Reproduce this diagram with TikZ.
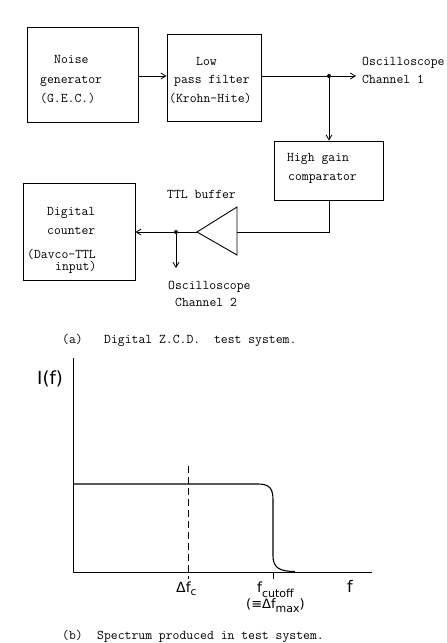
\documentclass[tikz,border=0pt]{standalone}
\usepackage{fontspec}
\newfontfamily\gsans{DejaVu Sans}
\usetikzlibrary{arrows.meta,shadows}
\begin{document}
\begin{tikzpicture}[x=1pt,y=-1pt,
  tt/.style={font=\ttfamily\fontsize{13.33}{16}\selectfont, inner sep=0pt, anchor=base west},
  gs/.style={font=\gsans\fontsize{#1}{#1}\selectfont, inner sep=0pt, anchor=base west},
  blk/.style={draw, line width=0.9pt, fill=white, drop shadow={shadow xshift=1.2pt, shadow yshift=-1.2pt, opacity=0.7, fill=black}, inner sep=0pt},
  wire/.style={line width=0.8pt},
  arr/.style={wire, -{Straight Barb[length=5pt,width=6pt]}},
  dotn/.style={circle, fill, inner sep=0pt, minimum size=4pt},
  axis/.style={line width=1pt}
]
\useasboundingbox (0,0) rectangle (447,643);

% boxes
\node[blk, minimum width=111pt, minimum height=95pt] (noise) at (82.5,74.5) {};
\node[blk, minimum width=94pt, minimum height=87pt] (lpf) at (214,77.5) {};
\node[blk, minimum width=109pt, minimum height=59pt] (comp) at (328.5,170.5) {};
\node[blk, minimum width=112pt, minimum height=97pt] (counter) at (79,231.5) {};

% box texts
\node[tt] (t1) at (54,63) {Noise};
\node[tt] (t2) at (40,83) {generator};
\node[tt] (t3) at (40,102) {(G.E.C.)};
\node[tt] (t4) at (196,65) {Low};
\node[tt] (t5) at (174,83) {pass filter};
\node[tt] (t6) at (169,102) {(Krohn-Hite)};
\node[tt] (t7) at (287,161) {High gain};
\node[tt] (t8) at (288,180) {comparator};
\node[tt] (t9) at (47,215) {Digital};
\node[tt] (t10) at (47,234) {counter};
\node[tt] (t11) at (27,258) {(Davco-TTL};
\node[tt] (t12) at (55,270) {input)};

% other labels
\node[tt] (o1) at (362,65) {Oscilloscope};
\node[tt] (o2) at (362,83) {Channel 1};
\node[tt] (tb) at (167,198) {TTL buffer};
\node[tt] (o3) at (168,289) {Oscilloscope};
\node[tt] (o4) at (175,306) {Channel 2};
\node[tt] (capa1) at (62,343) {(a)};
\node[tt] (capa2) at (104,343) {Digital Z.C.D.\ \ test system.};
\node[tt] (capb1) at (62,639) {(b)};
\node[tt] (capb2) at (97,639) {Spectrum produced in test system.};

% wiring
\coordinate (r1) at (0,76);
\draw[arr] (noise.east |- r1) -- (lpf.west |- r1);
\node[dotn] (d1) at (329,76) {};
\coordinate (osc1) at (356,76);
\draw[wire] (lpf.east |- r1) -- (d1);
\draw[arr] (d1) -- (osc1);
\draw[arr] (d1) -- (d1 |- comp.north);

% buffer triangle
\coordinate (bt) at (197,232);
\coordinate (btu) at (237,207);
\coordinate (btd) at (237,255);
\coordinate (bin) at (237,232);
\draw[line width=0.9pt, line join=miter] (bt) -- (btu) -- (btd) -- cycle;
\draw[wire] (d1 |- comp.south) -- (d1 |- bin) -- (bin);
\node[dotn] (d2) at (176,232) {};
\draw[wire] (bt) -- (d2);
\draw[arr] (d2) -- (counter.east |- d2);
\coordinate (osc2) at (176,268);
\draw[arr] (d2) -- (osc2);

% spectrum graph
\coordinate (O) at (73,572);
\coordinate (ytop) at (73,358);
\coordinate (xend) at (372,572);
\draw[axis] (ytop) -- (O) -- (xend);
\draw[line width=1.1pt] (73,484) -- (258,484) .. controls (270,484) and (273,489) .. (273,500)
  -- (273,556) .. controls (273,568) and (280,571.5) .. (295,571.5);
\draw[wire, dash pattern=on 7pt off 4pt] (188,466) -- (188,579);
\draw[wire] (273,572) -- (273,579);

\node[gs=18] (If) at (37,384) {I(f)};
\node[gs=14] (dfc) at (176,592) {Δf\raisebox{-3.5pt}{\fontsize{10.5}{10.5}\selectfont c}};
\node[gs=14] (fco) at (257,592) {f\raisebox{-5pt}{\fontsize{11}{11}\selectfont cutoff}};
\node[gs=13] (fmax) at (246,608) {(≡Δf\raisebox{-4pt}{\fontsize{11}{11}\selectfont max})};
\node[gs=16] (fax) at (347,592) {f};
\end{tikzpicture}
\end{document}
